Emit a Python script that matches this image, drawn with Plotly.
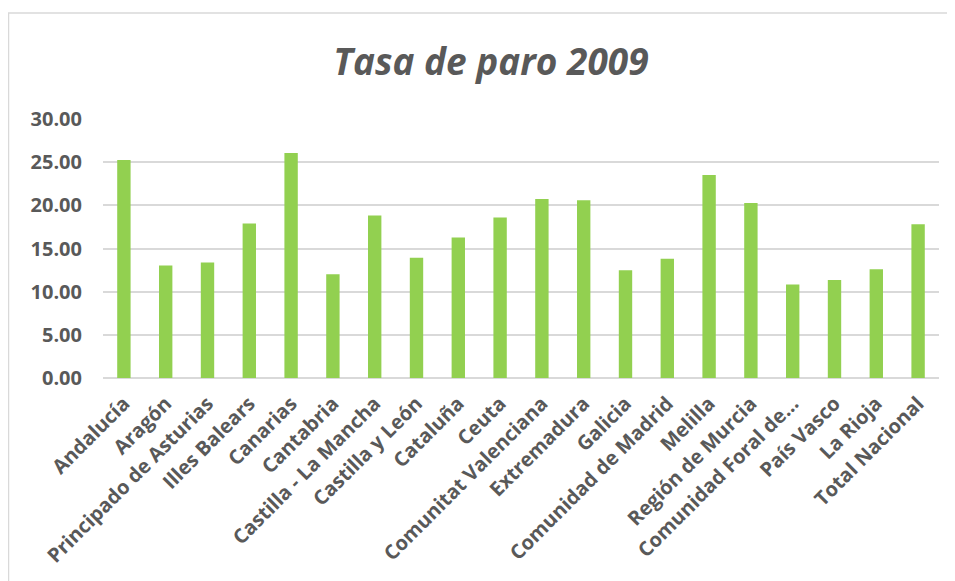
import plotly.graph_objects as go

regiones = [
    "Andalucía", "Aragón", "Principado de Asturias", "Illes Balears", "Canarias",
    "Cantabria", "Castilla - La Mancha", "Castilla y León", "Cataluña", "Ceuta",
    "Comunitat Valenciana", "Extremadura", "Galicia", "Comunidad de Madrid",
    "Melilla", "Región de Murcia", "Comunidad Foral de...", "País Vasco",
    "La Rioja", "Total Nacional",
]
tasa_paro = [
    25.24, 13.03, 13.37, 17.90, 26.05, 12.02, 18.83, 13.92, 16.27, 18.59,
    20.72, 20.60, 12.49, 13.80, 23.50, 20.26, 10.82, 11.36, 12.60, 17.82,
]
y_ticks = [0, 5, 10, 15, 20, 25, 30]

# page body has an 8px margin, so the figure is a bit smaller than the window
W, H = 947, 573
ML, MR, MT, MB = 95, 16, 111, 203
pw, ph = W - ML - MR, H - MT - MB

fig = go.Figure()
fig.add_trace(
    go.Bar(
        x=regiones,
        y=tasa_paro,
        marker=dict(color="#92d050", line=dict(width=0)),
    )
)

# chart area border (Excel style)
fig.add_shape(
    type="rect", xref="paper", yref="paper",
    x0=(0.5 - ML) / pw, x1=(W + 10 - ML) / pw,
    y0=(ph - (H + 10 - MT)) / ph, y1=(ph - (5 - MT)) / ph,
    line=dict(color="#d9d9d9", width=1.5), fillcolor="rgba(0,0,0,0)",
    layer="below",
)

fig.update_layout(
    width=W,
    height=H,
    margin=dict(l=ML, r=MR, t=MT, b=MB),
    paper_bgcolor="white",
    plot_bgcolor="white",
    bargap=0.68,
    showlegend=False,
    title=dict(
        text="<b><i>Tasa de paro 2009</i></b>",
        x=0.51, xanchor="center", y=0.906, yanchor="middle",
        font=dict(family="Open Sans", size=37, color="#595959"),
    ),
    font=dict(family="Open Sans", color="#595959"),
    xaxis=dict(
        tickangle=-45,
        tickfont=dict(size=20, color="#595959", family="Open Sans", weight="bold"),
        showgrid=False,
        showline=False,
        ticks="",
        ticklabelstandoff=9,
        automargin=False,
    ),
    yaxis=dict(
        range=[0, 30],
        tickvals=y_ticks,
        tickformat=".2f",
        tickfont=dict(size=20, color="#595959", family="Open Sans", weight="bold"),
        showgrid=True,
        gridcolor="#d9d9d9",
        gridwidth=1.5,
        zeroline=True,
        zerolinecolor="#d9d9d9",
        zerolinewidth=1.5,
        ticks="",
        ticklabelstandoff=20,
        automargin=False,
    ),
)

fig.write_html("out.html")
